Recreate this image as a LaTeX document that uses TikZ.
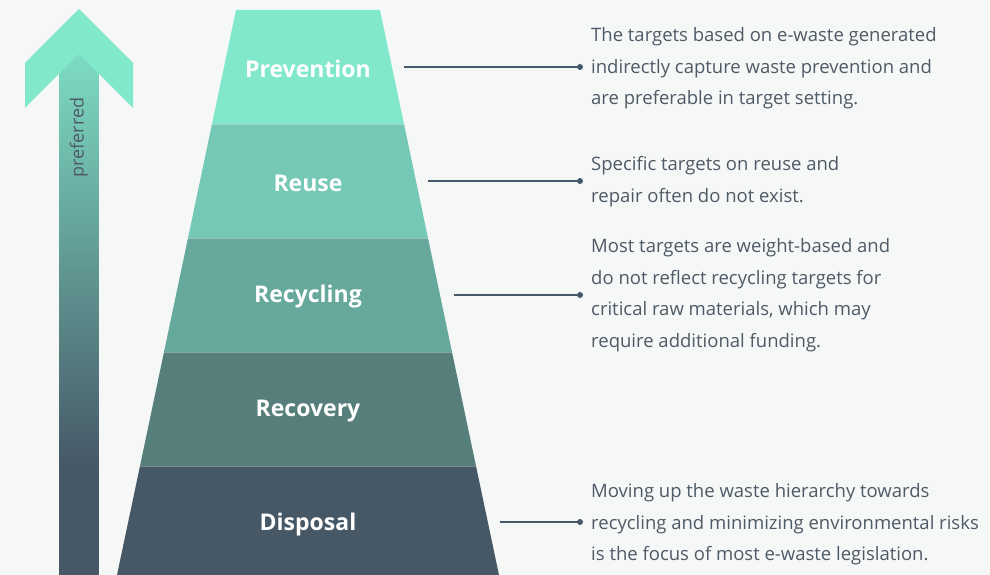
\documentclass[tikz,border=0pt]{standalone}
\usepackage{fontspec}
\setmainfont{Open Sans}
\definecolor{bg}{HTML}{F6F8F8}
\definecolor{cPrev}{HTML}{82E8CB}
\definecolor{cShaftTop}{HTML}{7DDBC3}
\definecolor{cReuse}{HTML}{74C8B5}
\definecolor{cRecy}{HTML}{66A89C}
\definecolor{cReco}{HTML}{567F7B}
\definecolor{cDisp}{HTML}{465866}
\definecolor{txt}{HTML}{4E5A66}
\definecolor{ln}{HTML}{46596A}
\tikzset{
  lvl/.style={white, font=\fontsize{23}{26}\selectfont\bfseries, inner sep=0pt},
  desc/.style={txt, font=\fontsize{18.5}{31.5}\selectfont, align=left, anchor=west, inner sep=0pt},
  conn/.style={ln, line width=1.3pt},
  dot/.style={circle, fill=ln, inner sep=0pt, minimum size=6pt},
  sep/.style={white, opacity=0.3, line width=0.8pt}
}
\begin{document}
\begin{tikzpicture}[x=1pt,y=-1pt]
\fill[bg] (0,0) rectangle (990,575);
\useasboundingbox (0,0) rectangle (990,575);
% arrow
\shade[top color=cShaftTop, bottom color=cDisp] (59,55) rectangle (98.5,467);
\fill[cDisp] (59,466.5) rectangle (98.5,575);
\fill[cPrev] (79,9) -- (133,63) -- (133,108) -- (79,54) -- (25,108) -- (25,63) -- cycle;
\node[txt, rotate=90, font=\fontsize{18}{20}\selectfont, inner sep=0pt] (pref) at (79,137.5) {preferred};
% pyramid
\fill[cPrev] (236,10) -- (380,10) -- (404,124) -- (212,124) -- cycle;
\fill[cReuse] (212,124) -- (404,124) -- (428,238) -- (188,238) -- cycle;
\fill[cRecy] (188,238) -- (428,238) -- (452,352) -- (164,352) -- cycle;
\fill[cReco] (164,352) -- (452,352) -- (476,466) -- (140,466) -- cycle;
\fill[cDisp] (140,466) -- (476,466) -- (499,575) -- (117,575) -- cycle;
\draw[sep] (212,124) -- (404,124);
\draw[sep] (188,238) -- (428,238);
\draw[sep] (164,352) -- (452,352);
\draw[sep] (140,466) -- (476,466);
\node[lvl] (prev) at (308,69) {Prevention};
\node[lvl] (reuse) at (308,183) {Reuse};
\node[lvl] (recy) at (308,297) {Recycling};
\node[lvl] (reco) at (308,411) {Recovery};
\node[lvl] (disp) at (308,525) {Disposal};
% connectors
\coordinate (s1) at (404,67);
\coordinate (s2) at (428,181);
\coordinate (s3) at (454,295);
\coordinate (s4) at (500,522);
\node[dot] (d1) at (580,67) {};
\node[dot] (d2) at (580,181) {};
\node[dot] (d3) at (580,295) {};
\node[dot] (d4) at (580,522) {};
\draw[conn] (s1) -- (d1.center);
\draw[conn] (s2) -- (d2.center);
\draw[conn] (s3) -- (d3.center);
\draw[conn] (s4) -- (d4.center);
% descriptions
\node[desc] (t1) at (591,68.5) {The targets based on e-waste generated\\indirectly capture waste prevention and\\are preferable in target setting.};
\node[desc] (t2) at (591,181.5) {Specific targets on reuse and\\repair often do not exist.};
\node[desc] (t3) at (591,295) {Most targets are weight-based and\\do not reflect recycling targets for\\critical raw materials, which may\\require additional funding.};
\node[desc] (t4) at (591,524.5) {Moving up the waste hierarchy towards\\recycling and minimizing environmental risks\\is the focus of most e-waste legislation.};
\end{tikzpicture}
\end{document}
